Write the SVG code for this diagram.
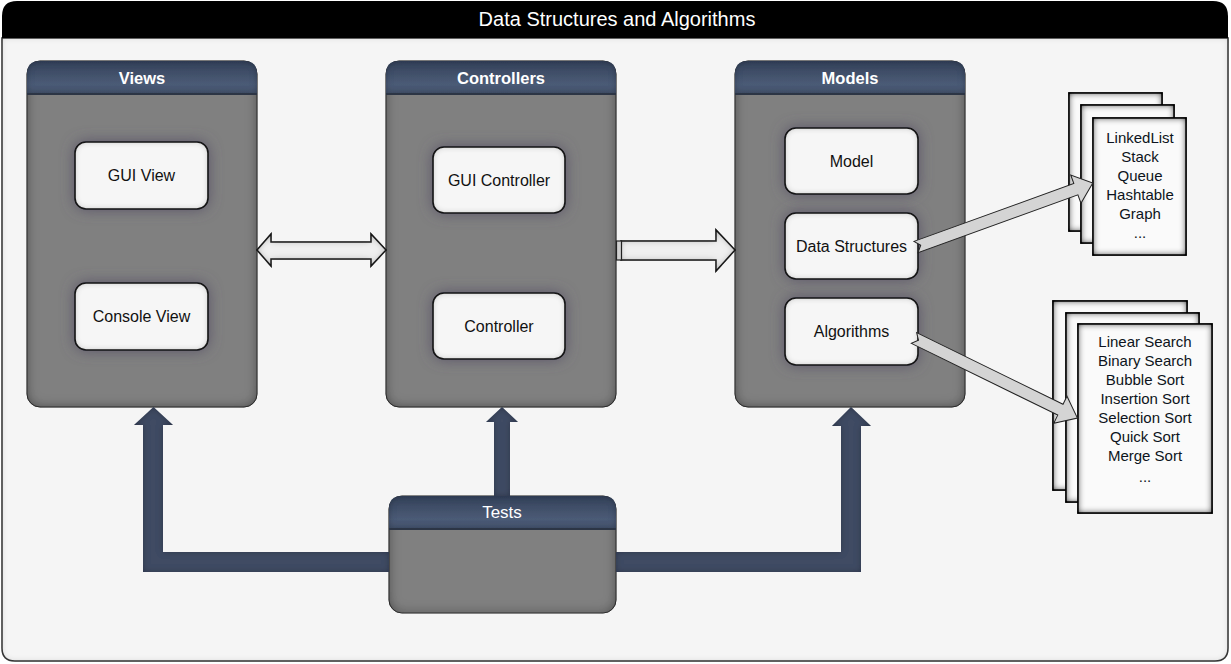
<svg xmlns="http://www.w3.org/2000/svg" width="1231" height="664" viewBox="0 0 1231 664">
<defs>
<style>
.title{font-family:"Liberation Sans",Arial,sans-serif;font-size:20px;fill:#fff;text-anchor:middle}
.hdr{font-family:"Liberation Sans",Arial,sans-serif;font-size:16.5px;font-weight:bold;fill:#fff;text-anchor:middle}
.tst{font-family:"Liberation Sans",Arial,sans-serif;font-size:17px;fill:#fff;text-anchor:middle}
.lbl{font-family:"Liberation Sans",Arial,sans-serif;font-size:16px;fill:#111;text-anchor:middle}
.pg{font-family:"Liberation Sans",Arial,sans-serif;font-size:15px;fill:#0d1420;text-anchor:middle}
.panel{fill:#808080;stroke:#3a3a3a;stroke-width:1;filter:url(#inset)}
.head{fill:url(#hg);filter:url(#insetS)}
.box{fill:#f6f6f6;stroke:#1a1a1a;stroke-width:1.6;filter:url(#boxfx)}
.page{fill:#fafafa;stroke:#111;stroke-width:1.5;filter:url(#pagefx)}
.bar{fill:#3f4c64;filter:url(#insetS)}
.big{fill:#f0f0f0;stroke:#222;stroke-width:1.5;filter:url(#insetA)}
.thin{fill:#d4d4d4;stroke:#222;stroke-width:1}
</style>
<linearGradient id="hg" x1="0" y1="0" x2="0" y2="1">
<stop offset="0" stop-color="#35425a"/>
<stop offset="0.7" stop-color="#4b5b76"/>
<stop offset="1" stop-color="#44526b"/>
</linearGradient>
<filter id="inset" x="-5%" y="-5%" width="110%" height="110%">
<feFlood flood-color="#000" flood-opacity="0.85"/>
<feComposite in2="SourceAlpha" operator="out"/>
<feGaussianBlur stdDeviation="6"/>
<feComposite in2="SourceAlpha" operator="in" result="sh"/>
<feMerge><feMergeNode in="SourceGraphic"/><feMergeNode in="sh"/></feMerge>
</filter>
<filter id="insetS" x="-5%" y="-10%" width="110%" height="120%">
<feFlood flood-color="#000" flood-opacity="0.5"/>
<feComposite in2="SourceAlpha" operator="out"/>
<feGaussianBlur stdDeviation="3"/>
<feComposite in2="SourceAlpha" operator="in" result="sh"/>
<feMerge><feMergeNode in="SourceGraphic"/><feMergeNode in="sh"/></feMerge>
</filter>
<filter id="insetA" x="-5%" y="-20%" width="110%" height="140%">
<feFlood flood-color="#000" flood-opacity="0.6"/>
<feComposite in2="SourceAlpha" operator="out"/>
<feGaussianBlur stdDeviation="3.5"/>
<feComposite in2="SourceAlpha" operator="in" result="sh"/>
<feMerge><feMergeNode in="SourceGraphic"/><feMergeNode in="sh"/></feMerge>
</filter>
<filter id="frame" x="-2%" y="-2%" width="104%" height="104%">
<feFlood flood-color="#000" flood-opacity="0.35"/>
<feComposite in2="SourceAlpha" operator="out"/>
<feGaussianBlur stdDeviation="3"/>
<feComposite in2="SourceAlpha" operator="in" result="sh"/>
<feMerge><feMergeNode in="SourceGraphic"/><feMergeNode in="sh"/></feMerge>
</filter>
<filter id="boxfx" x="-30%" y="-50%" width="160%" height="200%">
<feGaussianBlur in="SourceAlpha" stdDeviation="7" result="b"/>
<feFlood flood-color="#5a5468" flood-opacity="1"/>
<feComposite in2="b" operator="in" result="glow"/>
<feFlood flood-color="#000" flood-opacity="0.6"/>
<feComposite in2="SourceAlpha" operator="out"/>
<feGaussianBlur stdDeviation="3"/>
<feComposite in2="SourceAlpha" operator="in" result="ins"/>
<feMerge><feMergeNode in="glow"/><feMergeNode in="SourceGraphic"/><feMergeNode in="ins"/></feMerge>
</filter>
<filter id="pagefx" x="-10%" y="-10%" width="120%" height="120%">
<feFlood flood-color="#000" flood-opacity="1"/>
<feComposite in2="SourceAlpha" operator="out"/>
<feGaussianBlur stdDeviation="3.5"/>
<feComposite in2="SourceAlpha" operator="in" result="sh"/>
<feMerge><feMergeNode in="SourceGraphic"/><feMergeNode in="sh"/><feMergeNode in="sh"/></feMerge>
</filter>
</defs>

<g id="frame">
<path d="M2,38 H1228 V648 Q1228,661 1215,661 H15 Q2,661 2,648 Z" fill="#f5f5f5" stroke="#3a3a3a" stroke-width="1.5" filter="url(#frame)"/>
<path d="M2,38 V16 Q2,1 17,1 H1213 Q1228,1 1228,16 V38 Z" fill="#000"/>
<text class="title" x="617" y="26">Data Structures and Algorithms</text>
</g>

<g id="views">
<rect class="panel" x="27" y="61" width="230" height="346" rx="13"/>
<path class="head" d="M27,94 V74 Q27,61 40,61 H244 Q257,61 257,74 V94 Z"/>
<rect x="27" y="93" width="230" height="2" fill="#2c3545"/>
<text class="hdr" x="142" y="84">Views</text>
</g>
<g id="gui-view">
<rect class="box" x="75" y="142" width="133" height="67" rx="11"/>
<text class="lbl" x="141.5" y="181">GUI View</text>
</g>
<g id="console-view">
<rect class="box" x="75" y="283" width="133" height="67" rx="11"/>
<text class="lbl" x="141.5" y="322">Console View</text>
</g>

<g id="controllers">
<rect class="panel" x="386" y="61" width="230" height="346" rx="13"/>
<path class="head" d="M386,94 V74 Q386,61 399,61 H603 Q616,61 616,74 V94 Z"/>
<rect x="386" y="93" width="230" height="2" fill="#2c3545"/>
<text class="hdr" x="501" y="84">Controllers</text>
</g>
<g id="gui-controller">
<rect class="box" x="433" y="147" width="132" height="66" rx="11"/>
<text class="lbl" x="499" y="185.5">GUI Controller</text>
</g>
<g id="controller">
<rect class="box" x="433" y="293" width="132" height="66" rx="11"/>
<text class="lbl" x="499" y="331.5">Controller</text>
</g>

<g id="models">
<rect class="panel" x="735" y="61" width="230" height="346" rx="13"/>
<path class="head" d="M735,94 V74 Q735,61 748,61 H952 Q965,61 965,74 V94 Z"/>
<rect x="735" y="93" width="230" height="2" fill="#2c3545"/>
<text class="hdr" x="850" y="84">Models</text>
</g>
<g id="model">
<rect class="box" x="785" y="128" width="133" height="66" rx="11"/>
<text class="lbl" x="851.5" y="166.5">Model</text>
</g>
<g id="data-structures">
<rect class="box" x="785" y="213" width="133" height="66" rx="11"/>
<text class="lbl" x="851.5" y="251.5">Data Structures</text>
</g>
<g id="algorithms">
<rect class="box" x="785" y="298" width="133" height="67" rx="11"/>
<text class="lbl" x="851.5" y="337">Algorithms</text>
</g>

<g id="tests">
<rect class="panel" x="389" y="496" width="227" height="117" rx="13"/>
<path class="head" d="M389,529 V509 Q389,496 402,496 H603 Q616,496 616,509 V529 Z"/>
<rect x="389" y="528" width="227" height="2" fill="#2c3545"/>
<text class="tst" x="502" y="518">Tests</text>
</g>

<g id="ds-list">
<rect class="page" x="1069" y="93" width="93" height="138"/>
<rect class="page" x="1081" y="105" width="93" height="138"/>
<rect class="page" x="1093" y="118" width="93" height="137"/>
<text class="pg" x="1140" y="143">LinkedList</text>
<text class="pg" x="1140" y="162">Stack</text>
<text class="pg" x="1140" y="181">Queue</text>
<text class="pg" x="1140" y="200">Hashtable</text>
<text class="pg" x="1140" y="219">Graph</text>
<text class="pg" x="1140" y="238">...</text>
</g>

<g id="algo-list">
<rect class="page" x="1053" y="301" width="134" height="189"/>
<rect class="page" x="1066" y="313" width="133" height="189"/>
<rect class="page" x="1078" y="324" width="134" height="189"/>
<text class="pg" x="1145" y="347">Linear Search</text>
<text class="pg" x="1145" y="366">Binary Search</text>
<text class="pg" x="1145" y="385">Bubble Sort</text>
<text class="pg" x="1145" y="404">Insertion Sort</text>
<text class="pg" x="1145" y="423">Selection Sort</text>
<text class="pg" x="1145" y="442">Quick Sort</text>
<text class="pg" x="1145" y="461">Merge Sort</text>
<text class="pg" x="1145" y="482">...</text>
</g>

<g id="connectors">
<polygon class="big" points="257,250 271,234 271,242 371,242 371,234 386,250 371,266 371,259 271,259 271,266"/>
<polygon class="big" points="621,241 716,241 716,230 735,250 716,271 716,260 621,260"/>
<rect x="616.5" y="241" width="5" height="19" fill="#cfcfcf" stroke="#222" stroke-width="1.2"/>
<polygon class="thin" transform="translate(916,247) rotate(-19.9)" points="0,-6 170,-6 170,-15 188,0 170,15 170,6 0,6 5,0"/>
<polygon class="thin" transform="translate(914,338) rotate(26.1)" points="0,-6 163,-6 163,-15 182,0 163,15 163,6 0,6 5,0"/>
<polygon class="bar" points="389,552 163,552 163,425 173,425 153.5,407 134,425 143,425 143,572 389,572"/>
<polygon class="bar" points="494,496 494,422 486,422 502,407 518,422 510,422 510,496"/>
<polygon class="bar" points="616,552 841,552 841,426 832,426 851,407 871,426 861,426 861,572 616,572"/>
</g>
</svg>
